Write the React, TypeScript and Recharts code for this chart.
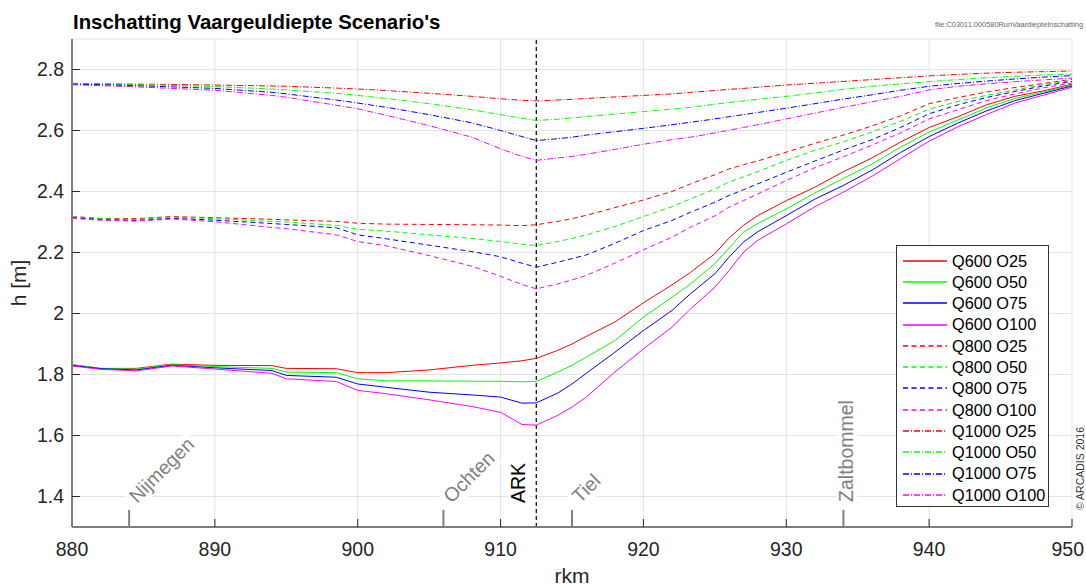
import React from 'react';
import { LineChart, Line, XAxis, YAxis, CartesianGrid, ReferenceLine } from 'recharts';

// rivierkilometer (rkm) sample points
const km = [880, 882, 884.5, 887, 890, 894, 895, 898.5, 900, 902, 905, 908, 910, 911.5, 912.5, 914, 915, 916, 918, 920, 922, 923.3, 925, 926, 927, 928, 930, 932, 934, 936, 938, 940, 942, 944, 946, 948, 950];

// Q600 (solid)
const q600o25 = [1.832, 1.820, 1.820, 1.834, 1.830, 1.829, 1.820, 1.819, 1.806, 1.806, 1.815, 1.830, 1.838, 1.845, 1.853, 1.879, 1.900, 1.925, 1.972, 2.035, 2.094, 2.135, 2.196, 2.248, 2.289, 2.321, 2.370, 2.414, 2.465, 2.510, 2.562, 2.610, 2.645, 2.684, 2.712, 2.730, 2.752];
const q600o50 = [1.832, 1.820, 1.818, 1.832, 1.826, 1.820, 1.808, 1.806, 1.786, 1.779, 1.779, 1.778, 1.778, 1.776, 1.777, 1.808, 1.830, 1.857, 1.911, 1.988, 2.053, 2.097, 2.163, 2.215, 2.267, 2.295, 2.343, 2.395, 2.443, 2.490, 2.545, 2.595, 2.634, 2.674, 2.705, 2.726, 2.749];
const q600o75 = [1.830, 1.819, 1.815, 1.830, 1.822, 1.813, 1.797, 1.791, 1.769, 1.758, 1.742, 1.733, 1.726, 1.706, 1.707, 1.739, 1.769, 1.804, 1.873, 1.944, 2.010, 2.065, 2.130, 2.185, 2.234, 2.268, 2.321, 2.375, 2.420, 2.470, 2.528, 2.580, 2.624, 2.664, 2.698, 2.722, 2.746];
const q600o100 = [1.828, 1.817, 1.812, 1.828, 1.818, 1.804, 1.786, 1.777, 1.748, 1.737, 1.717, 1.695, 1.676, 1.636, 1.634, 1.666, 1.693, 1.726, 1.808, 1.884, 1.955, 2.015, 2.086, 2.141, 2.201, 2.240, 2.294, 2.350, 2.398, 2.450, 2.508, 2.565, 2.612, 2.652, 2.690, 2.716, 2.742];

// Q800 (dashed)
const q800o25 = [2.318, 2.312, 2.311, 2.318, 2.314, 2.309, 2.307, 2.302, 2.296, 2.293, 2.292, 2.291, 2.290, 2.288, 2.291, 2.302, 2.311, 2.322, 2.347, 2.372, 2.400, 2.425, 2.455, 2.474, 2.488, 2.500, 2.529, 2.558, 2.585, 2.615, 2.648, 2.688, 2.708, 2.726, 2.741, 2.754, 2.768];
const q800o50 = [2.318, 2.311, 2.308, 2.316, 2.311, 2.302, 2.300, 2.289, 2.276, 2.270, 2.258, 2.246, 2.236, 2.227, 2.223, 2.236, 2.246, 2.258, 2.285, 2.318, 2.350, 2.376, 2.408, 2.431, 2.448, 2.465, 2.502, 2.535, 2.563, 2.595, 2.630, 2.670, 2.695, 2.715, 2.733, 2.750, 2.764];
const q800o75 = [2.314, 2.308, 2.305, 2.312, 2.306, 2.295, 2.292, 2.281, 2.258, 2.245, 2.224, 2.203, 2.186, 2.165, 2.152, 2.168, 2.180, 2.192, 2.230, 2.272, 2.305, 2.332, 2.365, 2.387, 2.406, 2.425, 2.463, 2.500, 2.536, 2.570, 2.610, 2.655, 2.684, 2.708, 2.728, 2.746, 2.761];
const q800o100 = [2.312, 2.306, 2.303, 2.310, 2.301, 2.282, 2.278, 2.258, 2.236, 2.222, 2.190, 2.155, 2.122, 2.095, 2.081, 2.097, 2.110, 2.125, 2.165, 2.209, 2.250, 2.283, 2.320, 2.349, 2.370, 2.392, 2.436, 2.478, 2.514, 2.552, 2.592, 2.638, 2.668, 2.698, 2.720, 2.740, 2.756];

// Q1000 (dash-dot)
const q1000o25 = [2.754, 2.753, 2.752, 2.751, 2.749, 2.746, 2.745, 2.739, 2.736, 2.731, 2.722, 2.712, 2.704, 2.699, 2.697, 2.700, 2.702, 2.705, 2.710, 2.715, 2.720, 2.725, 2.731, 2.735, 2.738, 2.742, 2.749, 2.755, 2.761, 2.767, 2.773, 2.779, 2.784, 2.788, 2.791, 2.793, 2.795];
const q1000o50 = [2.753, 2.752, 2.750, 2.748, 2.744, 2.736, 2.733, 2.722, 2.715, 2.705, 2.688, 2.668, 2.652, 2.640, 2.633, 2.637, 2.641, 2.646, 2.654, 2.662, 2.670, 2.676, 2.686, 2.692, 2.697, 2.702, 2.712, 2.723, 2.735, 2.745, 2.753, 2.760, 2.767, 2.773, 2.778, 2.782, 2.785];
const q1000o75 = [2.752, 2.750, 2.747, 2.743, 2.738, 2.725, 2.720, 2.700, 2.690, 2.676, 2.652, 2.625, 2.600, 2.580, 2.567, 2.573, 2.578, 2.585, 2.596, 2.607, 2.619, 2.627, 2.638, 2.645, 2.652, 2.659, 2.673, 2.688, 2.703, 2.717, 2.732, 2.745, 2.754, 2.762, 2.769, 2.775, 2.780];
const q1000o100 = [2.750, 2.747, 2.743, 2.738, 2.732, 2.715, 2.709, 2.683, 2.671, 2.650, 2.616, 2.578, 2.540, 2.515, 2.502, 2.510, 2.515, 2.522, 2.538, 2.555, 2.570, 2.578, 2.592, 2.601, 2.610, 2.619, 2.638, 2.657, 2.676, 2.694, 2.712, 2.733, 2.745, 2.753, 2.760, 2.766, 2.772];

const landmarkNames = ['Nijmegen', 'Ochten', 'Tiel', 'Zaltbommel'];
const landmarkKm = [884, 906, 915, 934];
const arkKm = 912.5;

const xTicks = [880, 890, 900, 910, 920, 930, 940, 950];
const yTicks = [1.4, 1.6, 1.8, 2, 2.2, 2.4, 2.6, 2.8];

const series = [
  { key: 'q600o25', name: 'Q600 O25', values: q600o25 },
  { key: 'q600o50', name: 'Q600 O50', values: q600o50 },
  { key: 'q600o75', name: 'Q600 O75', values: q600o75 },
  { key: 'q600o100', name: 'Q600 O100', values: q600o100 },
  { key: 'q800o25', name: 'Q800 O25', values: q800o25 },
  { key: 'q800o50', name: 'Q800 O50', values: q800o50 },
  { key: 'q800o75', name: 'Q800 O75', values: q800o75 },
  { key: 'q800o100', name: 'Q800 O100', values: q800o100 },
  { key: 'q1000o25', name: 'Q1000 O25', values: q1000o25 },
  { key: 'q1000o50', name: 'Q1000 O50', values: q1000o50 },
  { key: 'q1000o75', name: 'Q1000 O75', values: q1000o75 },
  { key: 'q1000o100', name: 'Q1000 O100', values: q1000o100 },
];

const COLORS = ['#ff0000', '#00ff00', '#0000ff', '#ff00ff'];
const DASHES = [undefined, '5 3.5', '6 2 1 2'];
const FONT = '"Liberation Sans", Arial, Helvetica, sans-serif';
const LABEL_SIZE = 19.5;
const AXIS_GREY = '#7f7f7f';

const data = km.map((k, i) => {
  const row: Record<string, number> = { km: k };
  series.forEach((s) => (row[s.key] = s.values[i]));
  return row;
});

function XTick({ x, y, payload }: any) {
  // keep the last label inside the figure, like the original
  const last = payload.value === xTicks[xTicks.length - 1];
  return (
    <text x={last ? x + 12 : x} y={y} dy="0.71em" textAnchor={last ? 'end' : 'middle'}
      fill="#262626" fontSize={LABEL_SIZE} fontFamily={FONT}>
      {payload.value}
    </text>
  );
}

function DiagLabel({ viewBox, text }: any) {
  const x = viewBox.x + 8;
  const y = viewBox.y - 6;
  const w = text.length * LABEL_SIZE * 0.53;
  return (
    <g transform={`rotate(-45 ${x} ${y})`}>
      <rect x={x - 3} y={y - 17} width={w + 6} height={23} fill="#fff" />
      <text x={x} y={y} fontSize={LABEL_SIZE} fill="#808080" fontFamily={FONT}>{text}</text>
    </g>
  );
}

function VertLabel({ x, y, text, color }: any) {
  const w = text.length * LABEL_SIZE * 0.53;
  return (
    <g transform={`rotate(-90 ${x} ${y})`}>
      <rect x={x - 3} y={y - 17} width={w + 6} height={21} fill="#fff" />
      <text x={x} y={y} fontSize={LABEL_SIZE} fill={color} fontFamily={FONT}>{text}</text>
    </g>
  );
}

function LegendBox() {
  return (
    <div
      style={{
        position: 'absolute', left: 896, top: 245, width: 153, height: 262,
        border: '1.3px solid #333', background: '#fff', boxSizing: 'border-box', paddingTop: 4,
      }}
    >
      {series.map((s, i) => (
        <div key={s.key} style={{ display: 'flex', alignItems: 'center', height: 21.3 }}>
          <svg width={55} height={10} style={{ flex: 'none' }}>
            <line x1={6} x2={50} y1={5} y2={5} stroke={COLORS[i % 4]} strokeWidth={1.3}
              strokeDasharray={DASHES[Math.floor(i / 4)]} />
          </svg>
          <span style={{ fontSize: 16.3, color: '#000', fontFamily: FONT, lineHeight: 1 }}>{s.name}</span>
        </div>
      ))}
    </div>
  );
}

export default function App() {
  const tickStyle = { fill: '#262626', fontSize: LABEL_SIZE, fontFamily: FONT };
  return (
    <div style={{ position: 'absolute', left: 0, top: 0, width: 1086, height: 586, background: '#fff' }}>
      <LineChart width={1086} height={586} data={data} margin={{ top: 39, right: 14, bottom: 0, left: 0 }}>
        <CartesianGrid stroke="#e3e3e3" strokeWidth={1} />
        <XAxis
          dataKey="km" type="number" domain={[880, 950]} ticks={xTicks} allowDataOverflow interval={0}
          height={59} tickSize={-8} tickMargin={23} tick={<XTick />}
          axisLine={{ stroke: AXIS_GREY, strokeWidth: 2 }} tickLine={{ stroke: '#262626' }}
        />
        <XAxis
          xAxisId="top" orientation="top" type="number" domain={[880, 950]} ticks={xTicks} allowDataOverflow
          interval={0} height={0} tickSize={-8} tick={false}
          axisLine={{ stroke: AXIS_GREY, strokeWidth: 2 }} tickLine={{ stroke: '#262626' }}
        />
        <YAxis
          type="number" domain={[1.3, 2.9]} ticks={yTicks} allowDataOverflow interval={0}
          width={72} tickSize={-8} tickMargin={16} tick={tickStyle}
          tickFormatter={(v: number) => String(Number(v.toFixed(1)))}
          axisLine={{ stroke: AXIS_GREY, strokeWidth: 2 }} tickLine={{ stroke: '#262626' }}
        />
        <YAxis
          yAxisId="right" orientation="right" type="number" domain={[1.3, 2.9]} ticks={yTicks} allowDataOverflow
          interval={0} width={0} tickSize={-8} tick={false}
          axisLine={{ stroke: AXIS_GREY, strokeWidth: 2.5 }} tickLine={{ stroke: '#262626' }}
        />
        {landmarkKm.map((k, i) => (
          <ReferenceLine
            key={landmarkNames[i]}
            segment={[{ x: k, y: 1.3 }, { x: k, y: 1.356 }]}
            stroke="#808080" strokeWidth={2} ifOverflow="visible"
            label={(p: any) =>
              landmarkNames[i] === 'Zaltbommel' ? (
                <VertLabel x={p.viewBox.x + 10} y={p.viewBox.y - 8} text={landmarkNames[i]} color="#808080" />
              ) : (
                <DiagLabel viewBox={p.viewBox} text={landmarkNames[i]} />
              )
            }
          />
        ))}
        <ReferenceLine
          x={arkKm} stroke="#000" strokeWidth={1.2} strokeDasharray="4 3"
          label={(p: any) => (
            <VertLabel x={p.viewBox.x - 11} y={p.viewBox.y + p.viewBox.height - 24} text="ARK" color="#000" />
          )}
        />
        {series.map((s, i) => (
          <Line
            key={s.key} dataKey={s.key} name={s.name} type="linear" dot={false} activeDot={false}
            stroke={COLORS[i % 4]} strokeWidth={1} strokeDasharray={DASHES[Math.floor(i / 4)]}
            isAnimationActive={false}
          />
        ))}
      </LineChart>
      <LegendBox />
      <svg width={1086} height={586} style={{ position: 'absolute', left: 0, top: 0, pointerEvents: 'none' }}>
        <text x={73} y={29.3} fontSize={20.4} fontWeight="bold" fill="#000" fontFamily={FONT}>
          Inschatting Vaargeuldiepte Scenario's
        </text>
        <text x={1083} y={27} fontSize={7.4} fill="#666" textAnchor="end" fontFamily={FONT}>
          file:C03011.000580RunVaardiepteInschatting
        </text>
        <text x={572} y={583} fontSize={21} fill="#262626" textAnchor="middle" fontFamily={FONT}>rkm</text>
        <text x={26} y={283} fontSize={21} fill="#262626" textAnchor="middle" fontFamily={FONT}
          transform="rotate(-90 26 283)">h [m]</text>
        <text x={1084} y={510} fontSize={10.5} fill="#333" fontFamily={FONT}
          transform="rotate(-90 1084 510)">© ARCADIS 2016</text>
      </svg>
    </div>
  );
}
